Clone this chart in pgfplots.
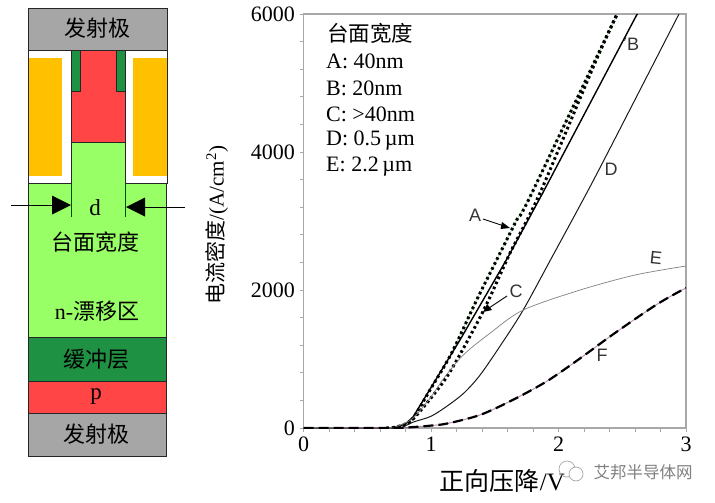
\documentclass[border=0pt]{standalone}
\usepackage{pgfplots}
\pgfplotsset{compat=1.18}
\usepackage{fontspec}
\setmainfont{Liberation Serif}
\setsansfont{Liberation Sans}
\newfontfamily\cjk{Noto Sans CJK SC}
\definecolor{cgray}{HTML}{A6A6A6}
\definecolor{corange}{HTML}{FFC000}
\definecolor{cred}{HTML}{FF4545}
\definecolor{cdgreen}{HTML}{1F9142}
\definecolor{clgreen}{HTML}{99FF66}
\definecolor{axgray}{HTML}{A8A8A8}
\pgfplotstableread{
x y
0.65 0
0.75 20
0.849 116
0.992 551
1.162 1087
1.358 1855
1.515 2435
1.672 3014
1.776 3348
2.46 6000
}\curveA
\pgfplotstableread{
x y
0.70 0
0.80 60
0.859 159
1.227 1275
1.604 2478
1.868 3377
2.613 5986
2.62 6000
}\curveB
\pgfplotstableread{
x y
0.70 0
0.80 60
0.888 188
1.123 739
1.345 1464
1.463 1899
1.620 2536
1.855 3406
2.286 5290
2.46 6000
}\curveC
\pgfplotstableread{
x y
0 0
0.70 0
0.80 35
0.862 87
1.00 170
1.128 320
1.26 510
1.386 770
1.55 1210
1.723 1710
1.95 2480
2.17 3230
2.35 3860
2.945 6000
}\curveD
\pgfplotstableread{
x y
0.70 0
0.85 130
1.00 450
1.10 720
1.253 1058
1.465 1377
1.723 1710
2.17 2000
2.60 2217
3.00 2348
}\curveE
\pgfplotstableread{
x y
0 0
0.70 0
0.862 14
1.00 35
1.128 65
1.386 190
1.645 410
1.911 680
2.17 1010
2.43 1360
2.77 1790
3.00 2030
}\curveF
\begin{document}
\begin{tikzpicture}
\path[use as bounding box] (0pt,0pt) rectangle (715pt,-503pt);
% schematic
\begin{scope}[x=1pt,y=-1pt,line width=0.9pt]
\fill[clgreen] (28,183) rectangle (166.5,337.5);
\fill[clgreen] (71.5,142) rectangle (125.5,183);
\draw[black!85] (28,183) -- (28,337.5) (166.5,183) -- (166.5,337.5);
\filldraw[fill=cgray,draw=black!85] (28.3,8) rectangle (167.5,50);
\filldraw[fill=white,draw=black!85] (28.3,50) rectangle (71.5,183);
\filldraw[fill=white,draw=black!85] (125.5,50) rectangle (167.5,183);
\fill[corange] (29,58) rectangle (62,176);
\fill[corange] (133,58) rectangle (167,176);
\filldraw[fill=cred,draw=black!85] (71.5,50) rectangle (125.5,142);
\filldraw[fill=cdgreen,draw=black!85] (71.5,50) rectangle (80.5,91.5);
\filldraw[fill=cdgreen,draw=black!85] (116,50) rectangle (125,91.5);
\filldraw[fill=cdgreen,draw=black!85] (28,337.5) rectangle (166.5,381);
\filldraw[fill=cred,draw=black!85] (28,381) rectangle (166.5,413);
\filldraw[fill=cgray,draw=black!85] (28,413) rectangle (166.5,456.5);
\draw[black!70!green] (71.5,183) -- (71.5,217) (125,183) -- (125,217);
\draw[black,line width=0.7pt] (11,205) -- (60,205) (185,207) -- (135,207);
\fill[black] (71,205) -- (52,195.5) -- (52,214.5) -- cycle;
\fill[black] (126,207) -- (145,197.5) -- (145,216.5) -- cycle;
\node[font=\fontsize{23}{23}\selectfont] at (95,208) {d};
\node[font=\fontsize{22}{22}\selectfont\cjk] at (97,28) {发射极};
\node[font=\fontsize{22}{22}\selectfont\cjk] at (95,242) {台面宽度};
\node[font=\fontsize{22}{22}\selectfont] at (97,311) {n-{\cjk 漂移区}};
\node[font=\fontsize{22}{22}\selectfont\cjk] at (96,359) {缓冲层};
\node[font=\fontsize{23}{23}\selectfont] at (96,397) {p};
\node[font=\fontsize{22}{22}\selectfont\cjk] at (96,434) {发射极};
\end{scope}
\begin{axis}[
  at={(303.5pt,-428pt)}, anchor=south west,
  width=382.5pt, height=414pt, scale only axis,
  xmin=0, xmax=3, ymin=0, ymax=6000,
  xtick={0,1,2,3}, ytick={0,2000,4000,6000},
  minor x tick num=4, minor y tick num=4,
  tick align=outside, tick pos=left,
  major tick length=4pt, minor tick length=3.5pt,
  every tick/.style={axgray,line width=1pt},
  every minor tick/.style={axgray,line width=1pt},
  axis line style={axgray,line width=1.3pt},
  /pgf/number format/1000 sep={},
  /pgf/number format/assume math mode=true,
  tick label style={font=\fontsize{22}{22}\selectfont},
  yticklabel style={xshift=-1pt},
  xticklabel style={yshift=-1pt},
  xlabel={{\cjk 正向压降}/V},
  ylabel={{\cjk 电流密度}/(A/cm\textsuperscript{2})},
  xlabel style={font=\fontsize{25}{25}\selectfont,at={(axis description cs:0.52,-0.128)},anchor=center},
  ylabel style={font=\fontsize{21}{21}\selectfont,at={(axis description cs:-0.226,0.49)},anchor=center,rotate=0},
]
\addplot[no marks,color=green!50!gray,line width=0.6pt,opacity=0.6] table[x=x,y=y] {\curveA};
\addplot[no marks,smooth,color=black,line width=3pt,dash pattern=on 2.6pt off 2.9pt] table[x=x,y=y] {\curveA};
\addplot[no marks,color=black,line width=1.4pt] table[x=x,y=y] {\curveB};
\addplot[no marks,smooth,color=black,line width=3pt,dash pattern=on 2.6pt off 2.9pt] table[x=x,y=y] {\curveC};
\addplot[no marks,smooth,color=black!90,line width=1pt] table[x=x,y=y] {\curveD};
\addplot[no marks,smooth,color=black!50,line width=0.7pt] table[x=x,y=y] {\curveE};
\addplot[no marks,smooth,color=violet!50!gray,line width=0.9pt,opacity=0.6] table[x=x,y=y] {\curveF};
\addplot[no marks,smooth,color=black,line width=2.2pt,dash pattern=on 10pt off 5pt] table[x=x,y=y] {\curveF};
\end{axis}
\begin{scope}[x=1pt,y=-1pt]
\begin{scope}[font=\fontsize{22}{22}\selectfont]
\node[anchor=west,inner sep=0pt,font=\fontsize{21.5}{21.5}\selectfont\cjk] at (327,33) {台面宽度};
\node[anchor=west,inner sep=0pt] at (326,61) {A: 40nm};
\node[anchor=west,inner sep=0pt] at (326,88) {B: 20nm};
\node[anchor=west,inner sep=0pt] at (326,114) {C: >40nm};
\node[anchor=west,inner sep=0pt] at (326,141) {D: 0.5\,µm};
\node[anchor=west,inner sep=0pt] at (326,167) {E: 2.2\,µm};
\end{scope}
\begin{scope}[font=\fontsize{18}{18}\selectfont\sffamily,text=black!80]
\node at (475,215) {A};
\node at (633,44) {B};
\node at (516,291) {C};
\node at (611,169) {D};
\node[rotate=-6] at (656,258) {E};
\node at (602,355) {F};
\end{scope}
\draw[black,line width=0.9pt] (483,219) -- (504,226);
\fill[black] (510,228) -- (502,222) -- (500.5,229) -- cycle;
\draw[black,line width=0.9pt] (507,296) -- (489,308);
\fill[black] (483,312) -- (487,304) -- (492,310) -- cycle;
\draw[black!85,line width=0.6pt] (626,37) -- (624.5,41);
% watermark
\draw[black!35,line width=0.7pt] (567,469) circle (8);
\filldraw[fill=white,draw=black!35,line width=0.7pt] (576,474) circle (7);
\node[text=black!50,font=\fontsize{16.5}{16.5}\selectfont\cjk] at (643,472) {艾邦半导体网};
\end{scope}
\end{tikzpicture}
\end{document}
